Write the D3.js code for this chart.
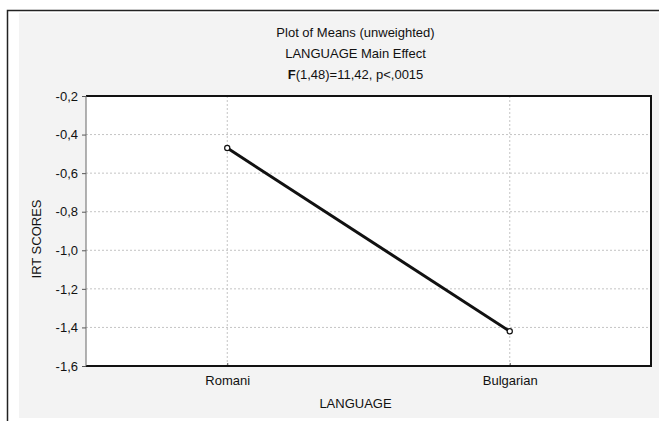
<!DOCTYPE html>
<html>
<head>
<meta charset="utf-8">
<script src="https://cdn.jsdelivr.net/npm/d3@7"></script>
<style>
  body { margin: 0; background: #fff; }
  svg { display: block; font-family: "Liberation Sans", Arial, sans-serif; }
</style>
</head>
<body>
<svg id="chart" width="659" height="421"></svg>
<script>
// chart values
const categories = ["Romani", "Bulgarian"];
const means = [-0.47, -1.42];
const yTicks = [-0.2, -0.4, -0.6, -0.8, -1.0, -1.2, -1.4, -1.6];
const titleLines = ["Plot of Means (unweighted)", "LANGUAGE Main Effect"];
const statLine = ["F", "(1,48)=11,42, p<,0015"];
const xTitle = "LANGUAGE";
const yTitle = "IRT SCORES";

const svg = d3.select("#chart");
const W = 659, H = 421;
const plot = { left: 86, top: 96, right: 651, bottom: 366 };

// panel background and outer frame
svg.append("rect").attr("x", 19).attr("y", 13).attr("width", W - 19).attr("height", 405)
    .attr("fill", "#f3f3f3");
svg.append("path").attr("d", `M7.5,${H} V10.5 H${W}`)
    .attr("fill", "none").attr("stroke", "#222").attr("stroke-width", 1.5);

const x = d3.scalePoint().domain(categories).range([plot.left, plot.right]).padding(0.5);
const y = d3.scaleLinear().domain([-1.6, -0.2]).range([plot.bottom, plot.top]);
// statistica style: hyphen minus and decimal comma
const fmt = v => (v < 0 ? "-" : "") + Math.abs(v).toFixed(1).replace(".", ",");

// plot area
svg.append("rect")
    .attr("x", plot.left).attr("y", plot.top)
    .attr("width", plot.right - plot.left).attr("height", plot.bottom - plot.top)
    .attr("fill", "#fff");

// grid lines
const grid = svg.append("g").attr("stroke", "#c4c4c4").attr("stroke-dasharray", "2,2");
grid.selectAll("line.h").data(yTicks.slice(1, -1)).join("line")
    .attr("x1", plot.left).attr("x2", plot.right)
    .attr("y1", d => y(d)).attr("y2", d => y(d));
grid.selectAll("line.v").data(categories).join("line")
    .attr("x1", d => x(d)).attr("x2", d => x(d))
    .attr("y1", plot.top).attr("y2", plot.bottom);

// y axis
const yAxis = svg.append("g").attr("transform", `translate(${plot.left},0)`)
    .call(d3.axisLeft(y).tickValues(yTicks).tickFormat(fmt).tickSize(4).tickPadding(4));
yAxis.select(".domain").remove();
yAxis.selectAll(".tick line").attr("stroke", "#555");
yAxis.selectAll(".tick text").attr("font-size", 13).attr("fill", "#111")
    .attr("font-family", "Liberation Sans, Arial, sans-serif");

// x axis
const xAxis = svg.append("g").attr("transform", `translate(0,${plot.bottom})`)
    .call(d3.axisBottom(x).tickSizeInner(-3).tickSizeOuter(0).tickPadding(10));
xAxis.select(".domain").remove();
xAxis.selectAll(".tick line").attr("stroke", "#555");
xAxis.selectAll(".tick text").attr("font-size", 13).attr("fill", "#111")
    .attr("font-family", "Liberation Sans, Arial, sans-serif");

// plot frame
svg.append("path")
    .attr("d", `M${plot.left},${plot.top} H${plot.right} V${plot.bottom} H${plot.left}`)
    .attr("fill", "none").attr("stroke", "#111").attr("stroke-width", 2);
svg.append("line")
    .attr("x1", plot.left).attr("x2", plot.left).attr("y1", plot.top).attr("y2", plot.bottom)
    .attr("stroke", "#666").attr("stroke-width", 1);

// means line and markers
const pts = categories.map((c, i) => [x(c), y(means[i])]);
svg.append("path").attr("d", d3.line()(pts))
    .attr("fill", "none").attr("stroke", "#111").attr("stroke-width", 3);
svg.selectAll("circle.pt").data(pts).join("circle")
    .attr("cx", d => d[0]).attr("cy", d => d[1]).attr("r", 2.6)
    .attr("fill", "#fff").attr("stroke", "#111").attr("stroke-width", 1.2);

// titles
const cx = (plot.left + plot.right) / 2 - 13;
svg.selectAll("text.title").data(titleLines).join("text")
    .attr("x", cx).attr("y", (d, i) => 37 + i * 21)
    .attr("text-anchor", "middle").attr("font-size", 13).attr("fill", "#111")
    .text(d => d);
const stat = svg.append("text").attr("x", cx).attr("y", 79)
    .attr("text-anchor", "middle").attr("font-size", 13).attr("fill", "#111");
stat.append("tspan").attr("font-weight", "bold").text(statLine[0]);
stat.append("tspan").text(statLine[1]);

svg.append("text").attr("x", cx).attr("y", 408)
    .attr("text-anchor", "middle").attr("font-size", 13).attr("fill", "#111")
    .text(xTitle);
svg.append("text").attr("transform", "translate(41,239) rotate(-90)")
    .attr("text-anchor", "middle").attr("font-size", 13).attr("fill", "#111")
    .text(yTitle);
</script>
</body>
</html>
